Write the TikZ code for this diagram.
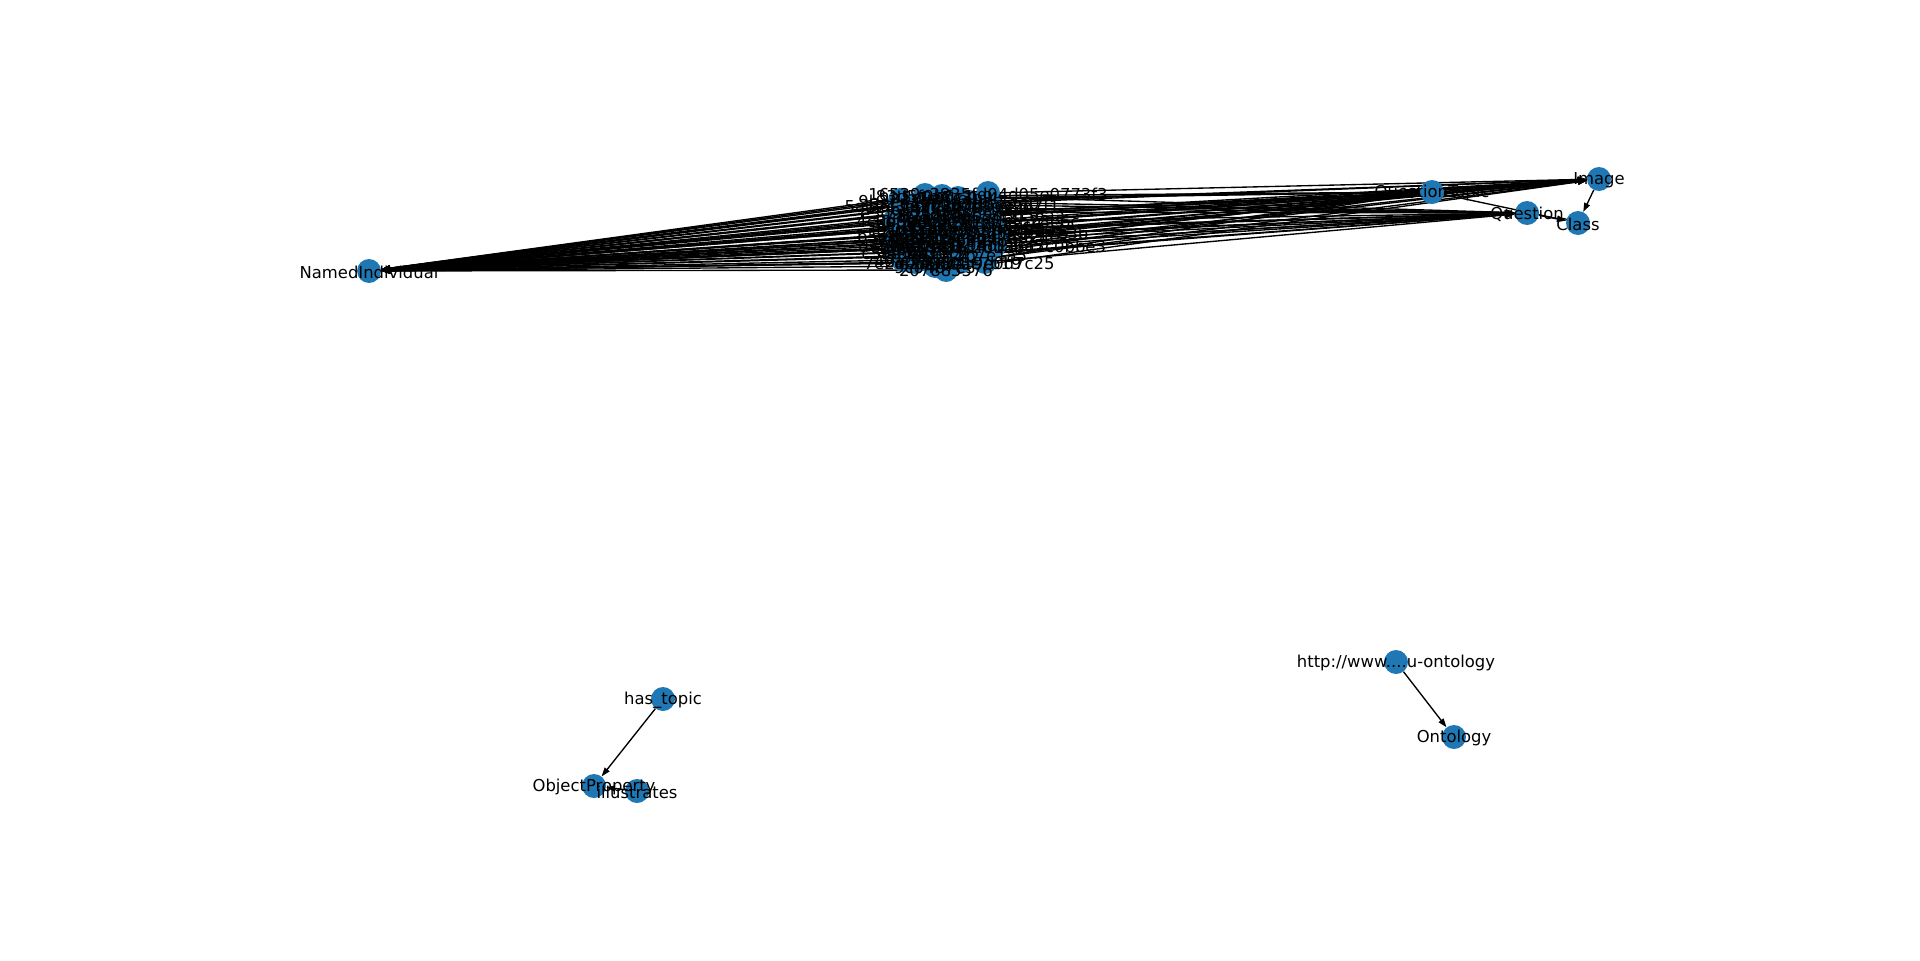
\documentclass[tikz,border=0pt]{standalone}
\usepackage{fontspec}
\setmainfont{DejaVu Sans}
\usetikzlibrary{arrows.meta}
\pgfdeclarelayer{edges}
\pgfdeclarelayer{labels}
\pgfsetlayers{edges,main,labels}
\definecolor{nodeblue}{HTML}{1F78B4}
\tikzset{
  dot/.style={circle,fill=nodeblue,draw=none,minimum size=24pt,inner sep=0pt},
  lbl/.style={inner sep=0pt,yshift=-1pt,font=\fontsize{16.4}{19}\selectfont,text=black},
  arr/.style={draw=black,line width=1.35pt,-{Triangle[length=9pt,width=6pt]}},
}
\begin{document}
\begin{tikzpicture}[x=1pt,y=-1pt]
\useasboundingbox (0,0) rectangle (1920,961);
% main class nodes
\node[dot] (NI) at (369,271) {};
\node[dot] (IM) at (1599,179) {};
\node[dot] (CL) at (1578,223) {};
\node[dot] (QU) at (1527,213) {};
\node[dot] (QT) at (1432,192) {};
\node[dot] (HT) at (663,699) {};
\node[dot] (OP) at (594,786) {};
\node[dot] (IL) at (637,791) {};
\node[dot] (UR) at (1396,662) {};
\node[dot] (ON) at (1454,737) {};
\begin{pgfonlayer}{labels}
\node[lbl] (NIl) at (NI) {NamedIndividual};
\node[lbl] (IMl) at (IM) {Image};
\node[lbl] (CLl) at (CL) {Class};
\node[lbl] (QUl) at (QU) {Question};
\node[lbl] (QTl) at (QT) {QuestionTopic};
\node[lbl] (HTl) at (HT) {has\_topic};
\node[lbl] (OPl) at (OP) {ObjectProperty};
\node[lbl] (ILl) at (IL) {illustrates};
\node[lbl] (URl) at (UR) {http://www....u-ontology};
\node[lbl] (ONl) at (ON) {Ontology};
\end{pgfonlayer}
\begin{pgfonlayer}{edges}
\draw[arr] (IM) -- (CL);
\draw[arr] (QU) -- (CL);
\draw[arr] (QT) -- (CL);
\draw[arr] (HT) -- (OP);
\draw[arr] (IL) -- (OP);
\draw[arr] (UR) -- (ON);
\end{pgfonlayer}
% individuals cluster
\foreach \x/\y/\t/\g [count=\i] in {
  988/193/16539c3835fd04d05e0773f3/IM,
  900/200/9b2e41d7/QT,
  935/205/5a17c3e0f28b4d96e1/IM,
  960/208/c84f0a2e7d15b9/QU,
  912/212/e3d9b71a06/QU,
  975/214/71f2a8c4e09d3b56aa/IM,
  895/220/4c0e8f21/QT,
  945/222/a0b6d4e29f83c1/QU,
  990/220/3e7a5c91d0f4b28e6c/IM,
  920/228/f91c37b5e2/QT,
  965/230/8d24e6a0b17f5c39/QU,
  898/235/b5e803c9/IM,
  938/238/2f6c9d1a8e04/QU,
  980/236/6a8e1f3c0b975d24e7/QT,
  910/245/d7b04e2c18/IM,
  955/246/0e5f7a93c2d18b/QU,
  995/245/59e2d4a81f6b33a7c0bbe3/IM,
  900/252/c3a95f17/QT,
  930/256/1b8d6e04f2/IM,
  968/254/94f0c2b7e1a5/QU,
  915/262/7e2a0d58c4/QT,
  946/270/207885576/IM,
  985/262/af36b19e0d7c25/QU,
  958/198/2c71e9a4/QT,
  925/195/83d5f0b6c1/QU,
  905/228/6f1e93/IM,
  950/232/d2c8a47b05e9/IM,
  972/224/0a9e5d2f7b13c8/QT,
  925/248/e6b17f04/QU,
  990/205/5c3b0e8a92d7f1/QU,
  940/214/b91d2e6c/QT,
  903/260/48a0f3/QU,
  918/204/3d8c1e5b0a7f/IM,
  970/202/e47b2a9d13c6f0/QU,
  930/220/0f5a8c3e71/IM,
  958/216/b3e9d0a6c4f2/QT,
  985/228/4a1f7e2c9d06b8e3/QU,
  912/238/8e0c5b1d/QU,
  948/240/c6d1f93a0e27b5/IM,
  975/244/2b9e7c04d1a6f3/QT,
  920/252/5f3a9e18c7/QU,
  960/262/e2a8d05c7b19/IM,
  935/266/9c04b7e3/QT,
  895/244/7a3c1f/QU,
  998/232/1e6b8d2f05a9c47e3b/IM,
  942/196/d5e0a7c3b9/QT}
{
  \node[dot] (c\i) at (\x,\y) {};
  \begin{pgfonlayer}{labels}
    \node[lbl] (cl\i) at (c\i) {\t};
  \end{pgfonlayer}
  \begin{pgfonlayer}{edges}
    \draw[arr] (c\i) -- (NI);
    \draw[arr] (c\i) -- (\g);
  \end{pgfonlayer}
}
\end{tikzpicture}
\end{document}
